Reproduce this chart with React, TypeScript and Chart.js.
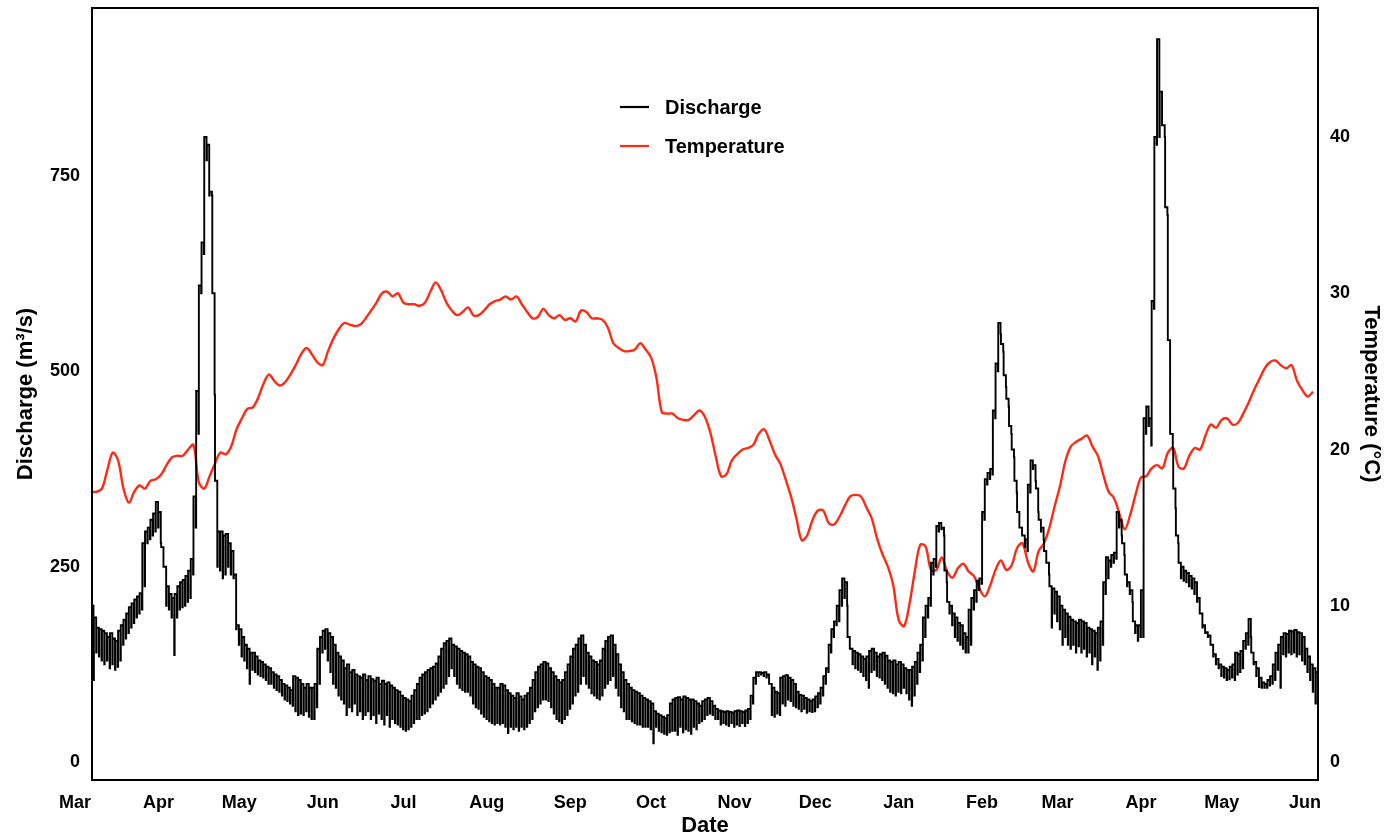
import React, { useEffect, useRef } from "react";
import { Chart, registerables } from "chart.js";

Chart.register(...registerables);

// x values are days counted from 1 March of the first year
const START_DAY = 6;
const X_MIN = 6.3;
const X_MAX = 461.8;
const LOW_OFFSET = 0.85; // part of each day at which the daily low is reached
const monthTickDays = [0, 31, 61, 92, 122, 153, 184, 214, 245, 275, 306, 337, 365, 396, 426, 457];
const monthLabels = ["Mar", "Apr", "May", "Jun", "Jul", "Aug", "Sep", "Oct", "Nov", "Dec", "Jan", "Feb", "Mar", "Apr", "May", "Jun"];
const dischargeTicks = [0, 250, 500, 750];
const temperatureTicks = [0, 10, 20, 30, 40];

// daily high / low of discharge (m3/s), one value per day from START_DAY
const dischargeHigh = [
  200, 185, 172, 170, 168, 165, 160, 165, 158, 155,
  168, 175, 182, 190, 198, 203, 208, 212, 216, 280,
  295, 300, 310, 318, 333, 320, 275, 250, 225, 215,
  210, 215, 225, 230, 233, 238, 245, 260, 340, 475,
  610, 665, 800, 790, 730, 600, 360, 295, 295, 290,
  292, 280, 270, 240, 175, 170, 160, 150, 145, 140,
  140, 135, 130, 128, 125, 122, 120, 115, 112, 110,
  105, 100, 98, 95, 92, 110, 108, 105, 100, 95,
  100, 95, 95, 100, 145, 160, 168, 170, 165, 160,
  150, 140, 135, 130, 120, 125, 115, 118, 112, 110,
  108, 112, 105, 110, 106, 104, 108, 100, 104, 100,
  102, 98, 95, 92, 90, 85, 82, 80, 78, 85,
  92, 100, 108, 112, 115, 118, 120, 122, 126, 135,
  145, 152, 155, 158, 150, 148, 145, 142, 140, 138,
  135, 128, 125, 122, 120, 115, 110, 108, 105, 100,
  95, 95, 100, 98, 92, 88, 85, 82, 88, 84,
  80, 85, 88, 95, 105, 115, 122, 125, 128, 126,
  120, 115, 110, 105, 102, 105, 115, 125, 135, 145,
  150, 158, 162, 150, 140, 135, 130, 128, 125, 130,
  145, 155, 160, 162, 150, 138, 125, 115, 105, 100,
  95, 92, 90, 88, 85, 82, 80, 78, 75, 65,
  62, 60, 58, 56, 60, 75, 80, 82, 83, 80,
  84, 82, 80, 80, 78, 75, 72, 78, 80, 82,
  78, 72, 68, 66, 65, 64, 65, 64, 63, 65,
  66, 65, 64, 66, 68, 85, 108, 115, 115, 114,
  115, 112, 100, 95, 90, 88, 108, 110, 111, 108,
  105, 100, 90, 86, 85, 82, 80, 78, 80, 84,
  88, 95, 110, 120, 150, 170, 180, 200, 220, 235,
  230, 160, 145, 142, 140, 138, 135, 132, 135, 142,
  145, 140, 135, 138, 140, 136, 130, 128, 130, 125,
  128, 125, 120, 118, 118, 122, 128, 140, 150, 185,
  200, 210, 255, 260, 302, 306, 300, 245, 205, 200,
  190, 185, 178, 175, 165, 160, 195, 210, 220, 232,
  235, 320, 362, 370, 375, 450, 510, 562, 535, 495,
  465, 430, 400, 360, 320, 300, 290, 285, 355, 386,
  380, 350, 310, 300, 270, 255, 225, 222, 218, 212,
  200, 195, 190, 186, 182, 180, 178, 182, 180, 178,
  172, 170, 168, 165, 172, 180, 230, 262, 258, 265,
  268, 320, 310, 280, 240, 230, 220, 180, 175, 175,
  220, 440, 455, 440, 590, 800, 925, 858, 815, 710,
  540, 420, 350, 290, 255, 250, 245, 242, 238, 235,
  230, 210, 190, 175, 166, 162, 150, 138, 132, 125,
  122, 120, 118, 122, 125, 140, 138, 142, 155, 165,
  183, 140, 128, 120, 108, 102, 100, 105, 110, 125,
  140, 150, 160, 165, 164, 168, 167, 169, 166, 165,
  160, 145, 135, 125, 120, 115,
];

const dischargeLow = [
  105, 140, 135, 130, 125, 130, 120, 125, 118, 122,
  130, 150, 158, 165, 172, 178, 185, 190, 195, 225,
  280, 285, 290, 295, 300, 280, 250, 200, 195, 185,
  137, 185, 195, 198, 200, 205, 210, 240, 300, 420,
  600, 650, 770, 725, 725, 470, 250, 245, 235, 240,
  250, 240, 235, 170, 150, 135, 130, 120, 100, 118,
  115, 112, 110, 108, 105, 100, 100, 95, 92, 90,
  85, 80, 78, 75, 72, 65, 60, 62, 60, 65,
  58, 55, 55, 70, 100, 140, 145, 130, 115, 100,
  95, 85, 80, 75, 60, 70, 65, 75, 60, 65,
  55, 60, 65, 55, 60, 50, 62, 55, 48, 60,
  45, 55, 50, 48, 45, 42, 40, 42, 45, 50,
  55, 55, 60, 62, 65, 70, 75, 80, 85, 90,
  95, 100, 110, 120, 110, 100, 95, 92, 90, 90,
  85, 75, 70, 68, 62, 58, 55, 52, 50, 48,
  50, 48, 50, 45, 37, 45, 42, 45, 40, 45,
  42, 45, 50, 55, 65, 70, 75, 80, 80, 78,
  70, 62, 55, 52, 50, 55, 60, 68, 75, 85,
  90, 100, 110, 100, 95, 88, 85, 82, 80, 85,
  95, 100, 105, 110, 95, 85, 70, 65, 55, 55,
  52, 50, 48, 48, 45, 45, 45, 42, 24, 45,
  40, 38, 36, 35, 38, 40, 40, 35, 45, 38,
  42, 40, 36, 45, 42, 50, 52, 55, 60, 62,
  60, 55, 55, 48, 50, 48, 46, 50, 45, 48,
  46, 50, 46, 50, 55, 75, 100, 110, 112, 110,
  108, 100, 60, 58, 62, 60, 75, 72, 80, 78,
  72, 70, 68, 65, 68, 63, 65, 64, 65, 70,
  75, 85, 100, 115, 140, 160, 175, 180, 200, 210,
  200, 145, 125, 120, 118, 115, 110, 105, 95, 115,
  118, 110, 108, 105, 100, 95, 90, 88, 85, 90,
  88, 95, 88, 80, 72, 85, 100, 115, 130, 160,
  185, 200, 240, 250, 295, 298, 290, 230, 190, 175,
  160, 155, 150, 145, 140, 140, 150, 195, 205, 220,
  228, 310, 355, 362, 368, 440, 500, 548, 525, 480,
  455, 420, 390, 345, 300, 290, 275, 270, 345, 375,
  360, 320, 295, 285, 255, 240, 172, 190, 180, 170,
  150, 160, 150, 145, 150, 140, 148, 140, 145, 135,
  140, 125, 135, 118, 130, 150, 215, 235, 250, 255,
  260, 300, 290, 265, 225, 215, 205, 165, 155, 160,
  160, 420, 430, 405, 580, 790, 800, 815, 800, 700,
  420, 400, 325, 280, 235, 232, 230, 225, 222, 215,
  205, 190, 172, 165, 160, 150, 135, 125, 120, 110,
  108, 105, 106, 108, 105, 112, 115, 120, 145, 150,
  160, 125, 110, 96, 95, 95, 95, 98, 100, 105,
  118, 95, 138, 135, 140, 138, 140, 135, 138, 130,
  125, 115, 105, 90, 75, 73,
];

// temperature (°C), one value every TEMP_STEP days from START_DAY
const TEMP_STEP = 2;
const temperature = [
  17.3, 17.3, 17.5, 18.7, 19.8, 19.3, 17.5, 16.6, 17.3, 17.7,
  17.5, 18.0, 18.1, 18.4, 19.0, 19.5, 19.6, 19.6, 20.0, 20.3,
  17.9, 17.5, 18.3, 19.1, 19.8, 19.7, 20.2, 21.3, 22.0, 22.6,
  22.7, 23.3, 24.2, 24.8, 24.4, 24.1, 24.3, 24.8, 25.4, 26.1,
  26.5, 26.1, 25.6, 25.4, 26.3, 27.1, 27.7, 28.1, 28.0, 27.9,
  28.0, 28.4, 28.9, 29.4, 30.0, 30.1, 29.8, 30.0, 29.4, 29.3,
  29.3, 29.2, 29.4, 30.1, 30.7, 30.2, 29.4, 28.9, 28.6, 28.8,
  29.1, 28.6, 28.6, 28.9, 29.3, 29.5, 29.6, 29.8, 29.6, 29.8,
  29.3, 28.8, 28.4, 28.5, 29.0, 28.6, 28.4, 28.6, 28.3, 28.4,
  28.2, 28.9, 28.8, 28.4, 28.4, 28.3, 27.8, 26.8, 26.5, 26.3,
  26.3, 26.4, 26.8, 26.4, 25.9, 24.6, 22.4, 22.3, 22.3, 22.0,
  21.9, 21.9, 22.2, 22.5, 22.1, 21.1, 19.6, 18.3, 18.4, 19.3,
  19.7, 20.0, 20.1, 20.3, 21.0, 21.3, 20.6, 19.7, 19.1, 18.1,
  17.0, 15.6, 14.2, 14.5, 15.5, 16.1, 16.1, 15.3, 15.2, 15.7,
  16.4, 17.0, 17.1, 17.0, 16.3, 15.6, 14.3, 13.3, 12.5, 11.3,
  9.1, 8.7, 10.1, 12.2, 13.9, 13.8, 12.3, 12.3, 13.1, 12.2,
  11.8, 12.4, 12.7, 12.2, 11.9, 11.1, 10.6, 11.3, 12.3, 12.9,
  12.3, 12.6, 13.7, 14.0, 12.8, 12.2, 13.5, 14.0, 15.0, 16.4,
  17.7, 19.3, 20.2, 20.5, 20.7, 20.9, 20.2, 19.6, 18.4, 17.3,
  16.9, 15.9, 14.9, 15.8, 17.1, 18.2, 18.3, 18.8, 19.0, 18.8,
  19.8, 20.1, 18.9, 18.8, 19.6, 20.1, 20.0, 20.9, 21.6, 21.4,
  21.9, 22.0, 21.6, 21.7, 22.3, 23.0, 23.8, 24.5, 25.2, 25.6,
  25.7, 25.4, 25.2, 25.4, 24.4, 23.8, 23.4, 23.7,
];

const FONT = "'Liberation Sans', Arial, Helvetica, sans-serif";
const RED = "#ff2a14";

const overlayPlugin = {
  id: "overlay",
  afterDraw(chart: any) {
    const { ctx, chartArea } = chart;
    const { left, right, top, bottom } = chartArea;
    ctx.save();
    // frame
    ctx.strokeStyle = "#000";
    ctx.lineWidth = 2;
    ctx.strokeRect(left, top, right - left, bottom - top);

    // axis titles
    ctx.fillStyle = "#000";
    ctx.font = `bold 22px ${FONT}`;
    ctx.textAlign = "center";
    ctx.textBaseline = "middle";
    const midY = (top + bottom) / 2;
    ctx.save();
    ctx.translate(26, midY);
    ctx.rotate(-Math.PI / 2);
    ctx.fillText("Discharge (m³/s)", 0, 0);
    ctx.restore();
    ctx.save();
    ctx.translate(1371, midY);
    ctx.rotate(Math.PI / 2);
    ctx.fillText("Temperature (°C)", 0, 0);
    ctx.restore();
    ctx.fillText("Date", (left + right) / 2, 826);

    // legend
    const items = chart.data.datasets.map((d: any) => ({ label: d.label, color: d.borderColor }));
    const lx = 620;
    const ly = [107, 146];
    ctx.font = `bold 20px ${FONT}`;
    ctx.textAlign = "left";
    items.forEach((it: any, i: number) => {
      ctx.strokeStyle = it.color;
      ctx.lineWidth = 2.2;
      ctx.beginPath();
      ctx.moveTo(lx, ly[i]);
      ctx.lineTo(lx + 29, ly[i]);
      ctx.stroke();
      ctx.fillStyle = "#000";
      ctx.fillText(it.label, lx + 45, ly[i] + 1);
    });
    ctx.restore();
  },
};

const noPad = (s: any) => {
  s.paddingTop = 0;
  s.paddingBottom = 0;
  s.paddingLeft = 0;
  s.paddingRight = 0;
};

export default function App() {
  const canvasRef = useRef<HTMLCanvasElement | null>(null);

  useEffect(() => {
    const canvas = canvasRef.current;
    if (!canvas) return;

    const dischargePoints: { x: number; y: number }[] = [];
    dischargeHigh.forEach((h, i) => {
      const d = START_DAY + i;
      dischargePoints.push({ x: d, y: h });
      dischargePoints.push({ x: d + LOW_OFFSET, y: dischargeLow[i] });
    });
    const tempPoints = temperature.map((t, i) => ({ x: START_DAY + i * TEMP_STEP, y: t }));

    const tickFont = { family: FONT, size: 18, weight: "bold" as const };

    const chart = new Chart(canvas, {
      type: "line",
      data: {
        datasets: [
          {
            label: "Discharge",
            data: dischargePoints,
            yAxisID: "yQ",
            borderColor: "#000000",
            borderWidth: 1.9,
            pointRadius: 0,
            stepped: true,
            fill: false,
          },
          {
            label: "Temperature",
            data: tempPoints,
            yAxisID: "yT",
            borderColor: RED,
            borderWidth: 2.4,
            pointRadius: 0,
            tension: 0.35,
            fill: false,
          },
        ],
      },
      options: {
        responsive: false,
        animation: false,
        events: [],
        layout: { padding: { top: 8, left: 0, right: 0, bottom: 0 } },
        plugins: { legend: { display: false }, tooltip: { enabled: false } },
        scales: {
          x: {
            type: "linear",
            min: X_MIN,
            max: X_MAX,
            grid: { display: false, drawTicks: false },
            border: { display: false },
            afterBuildTicks: (s: any) => {
              s.ticks = monthTickDays.map((v) => ({ value: v }));
            },
            afterFit: (s: any) => {
              s.height = 57;
              noPad(s);
            },
            ticks: {
              autoSkip: false,
              maxRotation: 0,
              padding: 12,
              color: "#000",
              font: tickFont,
              callback: (_v: any, i: number) => monthLabels[i],
            },
          },
          yQ: {
            type: "linear",
            position: "left",
            min: -23,
            max: 965,
            grid: { display: false, drawTicks: false },
            border: { display: false },
            afterBuildTicks: (s: any) => {
              s.ticks = dischargeTicks.map((v) => ({ value: v }));
            },
            afterFit: (s: any) => {
              s.width = 92;
              noPad(s);
            },
            ticks: { padding: 12, color: "#000", font: tickFont },
          },
          yT: {
            type: "linear",
            position: "right",
            min: -1.15,
            max: 48.26,
            grid: { display: false, drawTicks: false },
            border: { display: false },
            afterBuildTicks: (s: any) => {
              s.ticks = temperatureTicks.map((v) => ({ value: v }));
            },
            afterFit: (s: any) => {
              s.width = 80;
              noPad(s);
            },
            ticks: { padding: 12, color: "#000", font: tickFont },
          },
        },
      },
      plugins: [overlayPlugin],
    });

    return () => {
      chart.destroy();
    };
  }, []);

  return (
    <div style={{ position: "absolute", left: 0, top: 0, width: 1398, height: 837, background: "#fff" }}>
      <canvas ref={canvasRef} width={1398} height={837} style={{ display: "block" }} />
    </div>
  );
}
